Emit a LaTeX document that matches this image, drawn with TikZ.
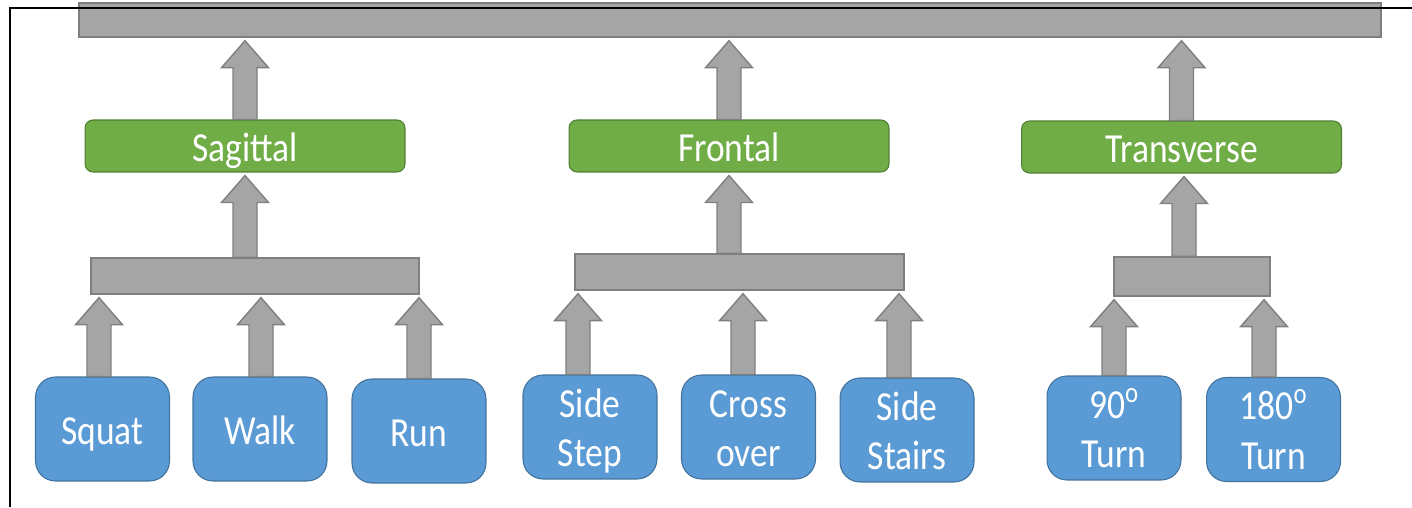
\documentclass[tikz,border=0pt]{standalone}
\usepackage{fontspec}
\setmainfont{Carlito}[FakeStretch=0.86]
\usetikzlibrary{calc}
\definecolor{bargray}{HTML}{A5A5A5}
\definecolor{bardraw}{HTML}{7F7F7F}
\definecolor{planegreen}{HTML}{70AD47}
\definecolor{planedraw}{HTML}{507E32}
\definecolor{moveblue}{HTML}{5B9BD5}
\definecolor{movedraw}{HTML}{41719C}
% block arrow pointing up from #1 to #2
\newcommand{\blockup}[2]{%
    \draw[blockarrow] let \p1=#1, \p2=#2 in
        (\x1-0.24cm,\y1) -- (\x1-0.24cm,\y2-0.6cm) -- (\x1-0.47cm,\y2-0.6cm)
        -- (\x1,\y2-0.06cm) -- (\x1+0.47cm,\y2-0.6cm) -- (\x1+0.24cm,\y2-0.6cm)
        -- (\x1+0.24cm,\y1) -- cycle;}
\begin{document}
\begin{tikzpicture}[x=0.02cm, y=-0.02cm,
        every node/.style = {align=center, inner sep=0pt},
        bar/.style = {draw=bardraw, fill=bargray, line width=0.8pt, minimum height=0.72cm},
        plane/.style = {draw=planedraw, fill=planegreen, line width=0.6pt, rounded corners=0.16cm,
            minimum width=6.4cm, minimum height=1.04cm, text=white,
            text height=0.62cm, text depth=0pt,
            font=\fontsize{23.5}{28}\selectfont},
        move/.style = {draw=movedraw, fill=moveblue, line width=0.6pt, rounded corners=0.4cm,
            minimum width=2.68cm, minimum height=2.08cm, text=white,
            text height=0.62cm, text depth=0pt,
            font=\fontsize{23.5}{28}\selectfont},
        twoline/.style = {text height=1.58cm},
        blockarrow/.style = {draw=bardraw, fill=bargray, line width=0.8pt}]
    \useasboundingbox (0,0) rectangle (1412,507);
    % bars
    \node[bar, minimum width=26.04cm, minimum height=0.68cm] (top) at (730,20) {};
    \node[bar, minimum width=6.56cm] (sagbar) at (255,276) {};
    \node[bar, minimum width=6.58cm] (frontbar) at (739.5,272) {};
    \node[bar, minimum width=3.12cm, minimum height=0.78cm] (transbar) at (1192,276.5) {};
    % planes
    \node[plane] (sagittal) at (245,146) {Sagittal};
    \node[plane] (frontal) at (729,146) {Frontal};
    \node[plane] (transverse) at (1181.5,147) {Transverse};
    % movements
    \node[move] (squat) at (102.5,429) {Squat};
    \node[move] (walk) at (260,429) {Walk};
    \node[move] (run) at (419,431) {Run};
    \node[move, twoline] (sidestep) at (590,427) {Side\\Step};
    \node[move, twoline] (crossover) at (748.5,427) {Cross\\over};
    \node[move, twoline] (sidestairs) at (907,430) {Side\\Stairs};
    \node[move, twoline] (turnninety) at (1114,428) {90\textsuperscript{o}\\Turn};
    \node[move, twoline] (turnhalf) at (1273.5,429.5) {180\textsuperscript{o}\\Turn};
    % arrows
    \blockup{([xshift=-0.07cm]squat.north)}{(sagbar.south)}
    \blockup{([xshift=0.02cm]walk.north)}{(sagbar.south)}
    \blockup{(run.north)}{(sagbar.south)}
    \blockup{([xshift=-0.24cm]sidestep.north)}{(frontbar.south)}
    \blockup{([xshift=-0.11cm]crossover.north)}{(frontbar.south)}
    \blockup{([xshift=-0.16cm]sidestairs.north)}{(frontbar.south)}
    \blockup{(turnninety.north)}{(transbar.south)}
    \blockup{([xshift=-0.19cm]turnhalf.north)}{(transbar.south)}
    \blockup{([xshift=-0.2cm]sagbar.north)}{(sagittal.south)}
    \blockup{([xshift=-0.21cm]frontbar.north)}{(frontal.south)}
    \blockup{([xshift=-0.16cm]transbar.north)}{(transverse.south)}
    \blockup{(sagittal.north)}{(top.south)}
    \blockup{(frontal.north)}{(top.south)}
    \blockup{(transverse.north)}{(top.south)}
    % frame
    \draw[line width=1.1pt] (10,507) -- (10,8) -- (1412,8);
\end{tikzpicture}
\end{document}
